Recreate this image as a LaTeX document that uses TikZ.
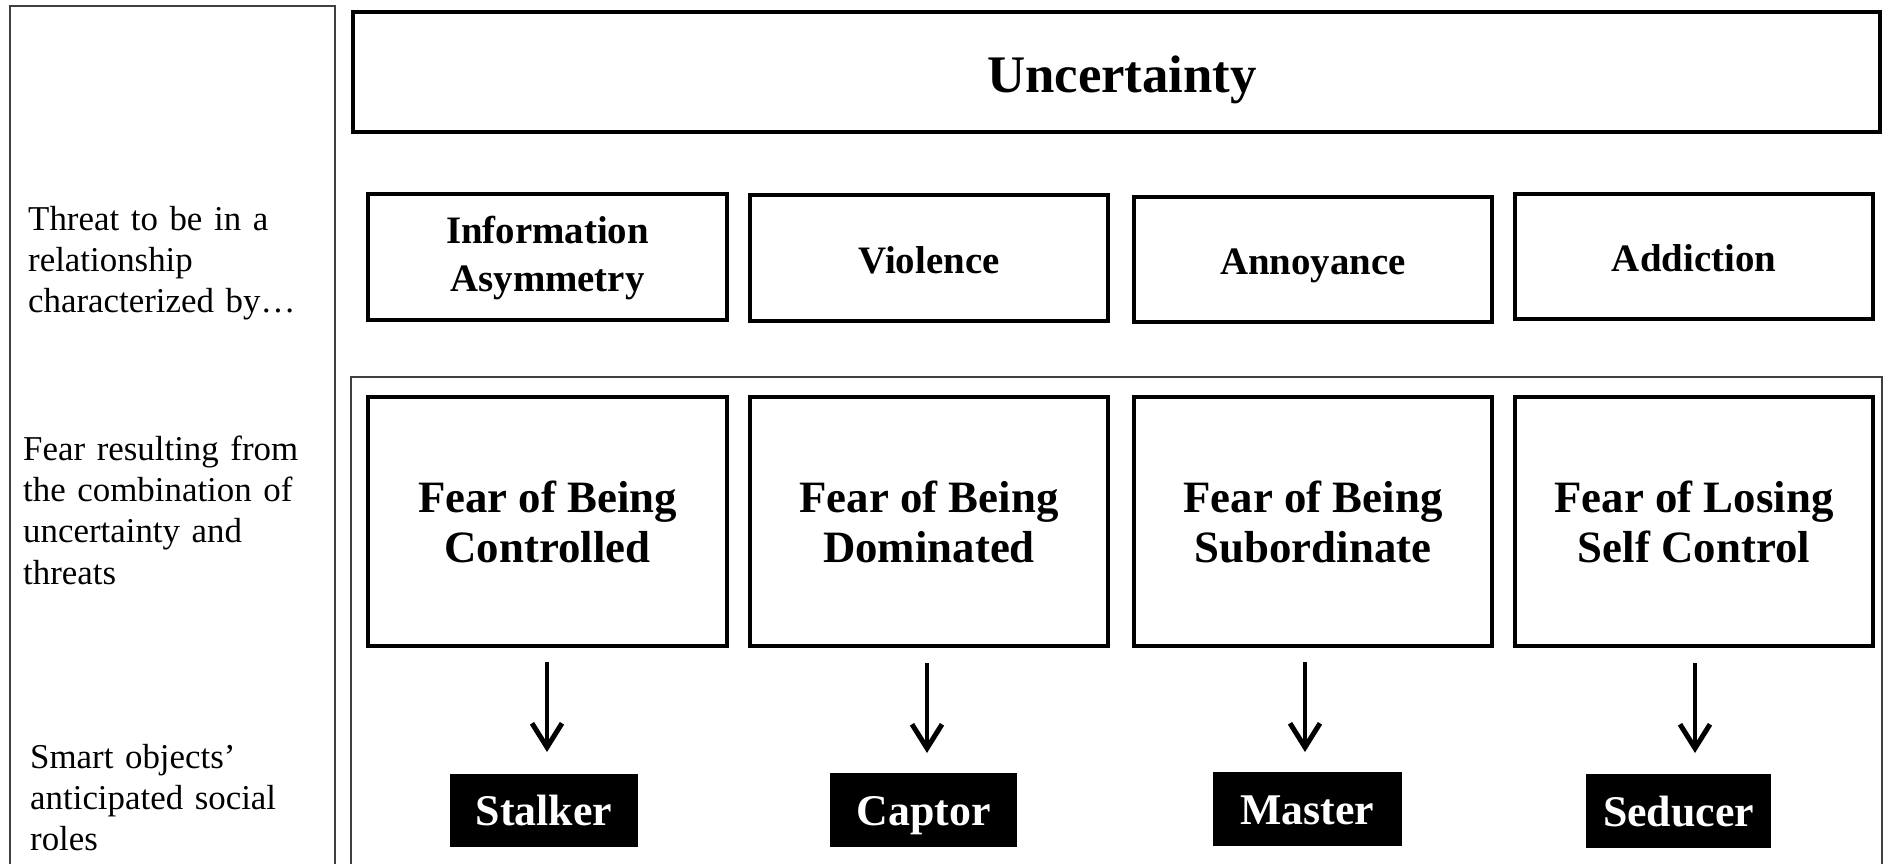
\documentclass[tikz,border=0pt]{standalone}
\usepackage{fontspec}
\setmainfont{Liberation Serif}
\usetikzlibrary{arrows.meta}
\tikzset{
  thinpanel/.style={draw=black!75, line width=1.5bp},
  thickbox/.style={draw=black, line width=4.8bp},
  lbl/.style={font=\fontsize{35}{41.5}\selectfont, text width=300bp, align=left, inner sep=0pt, anchor=base west},
  toptxt/.style={font=\bfseries\fontsize{53}{60}\selectfont, align=center, inner sep=0pt, anchor=base},
  threattxt/.style={font=\bfseries\fontsize{39}{48}\selectfont, align=center},
  threatone/.style={font=\bfseries\fontsize{39}{48}\selectfont, inner sep=0pt, anchor=base},
  feartxt/.style={font=\bfseries\fontsize{45}{51}\selectfont, align=center},
  roletxt/.style={font=\bfseries\fontsize{44}{48}\selectfont, text=white, inner sep=0pt, anchor=base},
  rolebox/.style={fill=black, draw=none},
  flowarrow/.style={line width=4bp, -{Straight Barb[length=24bp,width=30bp,line width=5bp]}},
}
\begin{document}
\begin{tikzpicture}[x=1bp, y=-1bp]
\useasboundingbox (0,0) rectangle (1898,864);
% left panel and lower outer frame (open at bottom)
\draw[thinpanel] (10,870) -- (10,6) -- (335,6) -- (335,870);
\draw[thinpanel] (351,870) -- (351,377) -- (1882,377) -- (1882,870);
% uncertainty
\draw[thickbox] (353,12) rectangle (1880,132);
\node[toptxt] (unc) at (1122,92) {Uncertainty};
% threats row
\draw[thickbox] (368,194) rectangle (727,320);
\node[threattxt] (t1) at (547.5,258) {Information\\Asymmetry};
\draw[thickbox] (750,195) rectangle (1108,321);
\node[threatone] (t2) at (929,273) {Violence};
\draw[thickbox] (1134,197) rectangle (1492,322);
\node[threatone] (t3) at (1313,274) {Annoyance};
\draw[thickbox] (1515,194) rectangle (1873,319);
\node[threatone] (t4) at (1694,271) {Addiction};
% fear row
\draw[thickbox] (368,397) rectangle (727,646);
\node[feartxt] (f1) at (547.5,522) {Fear of Being\\Controlled};
\draw[thickbox] (750,397) rectangle (1108,646);
\node[feartxt] (f2) at (929,522) {Fear of Being\\Dominated};
\draw[thickbox] (1134,397) rectangle (1492,646);
\node[feartxt] (f3) at (1313,522) {Fear of Being\\Subordinate};
\draw[thickbox] (1515,397) rectangle (1873,646);
\node[feartxt] (f4) at (1694,522) {Fear of Losing\\Self Control};
% role boxes
\fill[rolebox] (450,774) rectangle (638,847);
\node[roletxt] (r1) at (544,825) {Stalker};
\fill[rolebox] (830,773) rectangle (1017,847);
\node[roletxt] (r2) at (923.5,825) {Captor};
\fill[rolebox] (1213,772) rectangle (1402,846);
\node[roletxt] (r3) at (1307.5,824) {Master};
\fill[rolebox] (1586,774) rectangle (1771,848);
\node[roletxt] (r4) at (1678.5,826) {Seducer};
% arrows
\coordinate (a1s) at (547,662); \coordinate (a1e) at (547,752);
\coordinate (a2s) at (927,663); \coordinate (a2e) at (927,753);
\coordinate (a3s) at (1305,662); \coordinate (a3e) at (1305,752);
\coordinate (a4s) at (1695,663); \coordinate (a4e) at (1695,753);
\draw[flowarrow] (a1s) -- (a1e);
\draw[flowarrow] (a2s) -- (a2e);
\draw[flowarrow] (a3s) -- (a3e);
\draw[flowarrow] (a4s) -- (a4e);
% left labels
\node[lbl] (l1) at (28,230) {Threat to be in a\\relationship\\characterized by\ldots};
\node[lbl] (l2) at (23,460) {Fear resulting from\\the combination of\\uncertainty and\\threats};
\node[lbl] (l3) at (30,768) {Smart objects’\\anticipated social\\roles};
\end{tikzpicture}
\end{document}
